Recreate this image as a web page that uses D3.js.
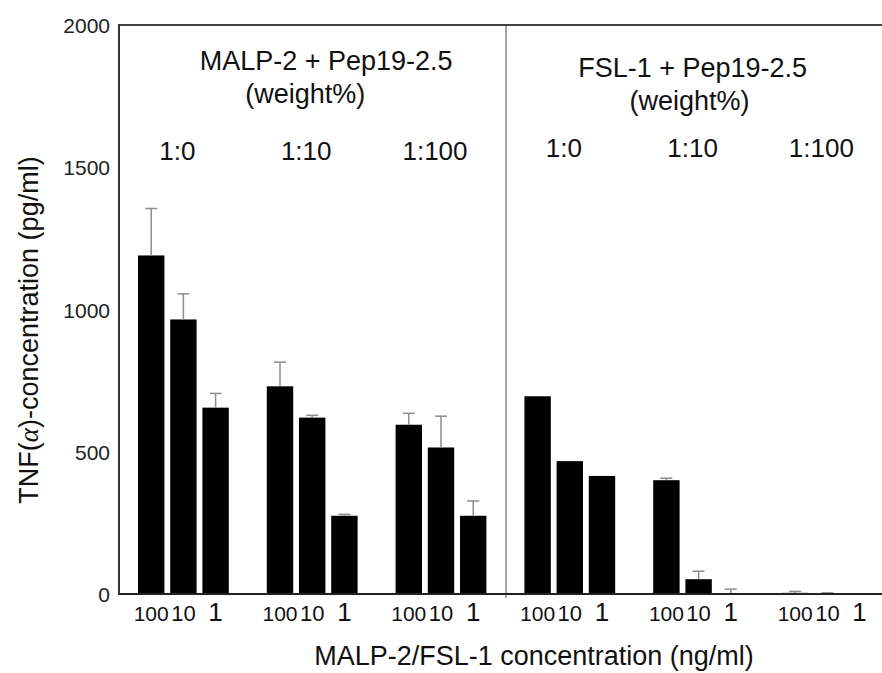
<!DOCTYPE html>
<html>
<head>
<meta charset="utf-8">
<script src="https://cdn.jsdelivr.net/npm/d3@7"></script>
<style>
  html, body { margin: 0; padding: 0; background: #fff; }
  svg { display: block; font-family: "Liberation Sans", Arial, sans-serif; }
</style>
</head>
<body>
<svg id="chart" width="882" height="673"></svg>
<script>
// Panels: lipopeptide + Pep19-2.5 mixtures
const panels = ["MALP-2 + Pep19-2.5", "FSL-1 + Pep19-2.5"];
const ratios = ["1:0", "1:10", "1:100"];
const concentrations = ["100", "10", "1"];

// TNF-alpha (pg/ml), rows = ratio, columns = concentration (100, 10, 1 ng/ml)
const malpValues = [[1190, 965, 655], [730, 620, 275], [595, 515, 275]];
const malpErrors = [[165, 90, 50], [85, 8, 5], [40, 110, 52]];
const fslValues = [[695, 467, 415], [400, 52, 2], [4, 2, 0]];
const fslErrors = [[0, 0, 0], [7, 28, 15], [5, 2, 0]];

const yTicks = [0, 500, 1000, 1500, 2000];

// Flatten into groups (panel x ratio) and bars
const groups = [];
panels.forEach((p, pi) => ratios.forEach((r, ri) => groups.push({ id: pi * 3 + ri, panel: pi, ratio: r })));
const bars = [];
groups.forEach(g => {
  const vals = g.panel === 0 ? malpValues : fslValues;
  const errs = g.panel === 0 ? malpErrors : fslErrors;
  const ri = g.id % 3;
  concentrations.forEach((c, ci) => bars.push({ group: g.id, conc: c, value: vals[ri][ci], err: errs[ri][ci] }));
});

const svg = d3.select("#chart");
const W = 882;
const plotLeft = 119, plotTop = 25, plotBottom = 594;

const y = d3.scaleLinear().domain([0, 2000]).range([plotBottom, plotTop]);
const xGroup = d3.scaleBand().domain(groups.map(g => g.id)).range([138, 138 + 6 * 128.8]).padding(0);
const xConc = d3.scaleBand().domain(concentrations).range([0, 90.8]).paddingInner(0.18).paddingOuter(0);
const bx = d => xGroup(d.group) + xConc(d.conc);
const groupCenter = id => xGroup(id) + 45.4;

const ink = "#111";

// Frame: top line, y axis
svg.append("line").attr("x1", plotLeft).attr("x2", W).attr("y1", plotTop).attr("y2", plotTop)
  .attr("stroke", "#444").attr("stroke-width", 2);
svg.append("line").attr("x1", plotLeft).attr("x2", plotLeft).attr("y1", plotTop - 1).attr("y2", plotBottom + 1)
  .attr("stroke", "#333").attr("stroke-width", 2);

// Divider between the two panels, midway between the last MALP-2 bar and the first FSL-1 bar
const divX = Math.round((xGroup(2) + 90.8 + xGroup(3)) / 2) + 1;
svg.append("line").attr("x1", divX).attr("x2", divX).attr("y1", plotTop + 1).attr("y2", plotBottom + 4)
  .attr("stroke", "#8a8a8a").attr("stroke-width", 1.5);

// Y axis tick labels (no tick marks)
const yAxis = d3.axisLeft(y).tickValues(yTicks).tickSize(0).tickPadding(9).tickFormat(d3.format("d"));
const ya = svg.append("g").attr("transform", `translate(${plotLeft},0)`).call(yAxis);
ya.select(".domain").remove();
ya.selectAll("text").attr("font-size", 21).attr("fill", "#222")
  .attr("font-family", "Liberation Sans, Arial, sans-serif").attr("dy", "0.36em");

// Bars
svg.append("g").selectAll("rect").data(bars).join("rect")
  .attr("x", bx).attr("width", xConc.bandwidth())
  .attr("y", d => y(d.value)).attr("height", d => y(0) - y(d.value))
  .attr("fill", "#000");

// Error bars (upper only)
const eb = svg.append("g").attr("stroke", "#8c8c8c").attr("stroke-width", 1.5);
bars.filter(d => d.err > 0).forEach(d => {
  const cx = bx(d) + xConc.bandwidth() / 2;
  eb.append("line").attr("x1", cx).attr("x2", cx).attr("y1", y(d.value)).attr("y2", y(d.value + d.err));
  eb.append("line").attr("x1", cx - 6).attr("x2", cx + 6).attr("y1", y(d.value + d.err)).attr("y2", y(d.value + d.err));
});

// Baseline drawn over the bars
svg.append("line").attr("x1", plotLeft).attr("x2", W).attr("y1", plotBottom).attr("y2", plotBottom)
  .attr("stroke", "#222").attr("stroke-width", 2);

// Concentration labels under each bar
const concSize = { "100": 21, "10": 22, "1": 26 };
svg.append("g").selectAll("text").data(bars).join("text")
  .attr("x", d => bx(d) + xConc.bandwidth() / 2)
  .attr("y", 621)
  .attr("text-anchor", "middle")
  .attr("font-size", d => concSize[d.conc])
  .attr("fill", ink)
  .text(d => d.conc);

// Ratio labels above each group
svg.append("g").selectAll("text").data(groups).join("text")
  .attr("x", d => groupCenter(d.id) - 6)
  .attr("y", d => d.panel === 0 ? 160 : 157)
  .attr("text-anchor", "middle")
  .attr("font-size", 26)
  .attr("fill", ink)
  .text(d => d.ratio);

// Panel titles
const titleX = [groupCenter(1) + 14, groupCenter(4) - 6];
const weightX = [groupCenter(1) - 7, groupCenter(4) - 9];
panels.forEach((p, i) => {
  svg.append("text").attr("x", titleX[i]).attr("y", i === 0 ? 70 : 77)
    .attr("text-anchor", "middle").attr("font-size", 27).attr("fill", ink).text(p);
  svg.append("text").attr("x", weightX[i]).attr("y", i === 0 ? 103 : 110)
    .attr("text-anchor", "middle").attr("font-size", 27).attr("fill", ink).text("(weight%)");
});

// Axis titles
const yTitle = svg.append("text")
  .attr("transform", "translate(38,330) rotate(-90)")
  .attr("text-anchor", "middle").attr("font-size", 27).attr("fill", ink);
yTitle.append("tspan").text("TNF(");
yTitle.append("tspan").attr("font-family", "Liberation Serif, serif").attr("font-style", "italic").text("α");
yTitle.append("tspan").text(")-concentration (pg/ml)");

svg.append("text").attr("x", 534).attr("y", 665)
  .attr("text-anchor", "middle").attr("font-size", 27).attr("fill", ink)
  .text("MALP-2/FSL-1 concentration (ng/ml)");
</script>
</body>
</html>
